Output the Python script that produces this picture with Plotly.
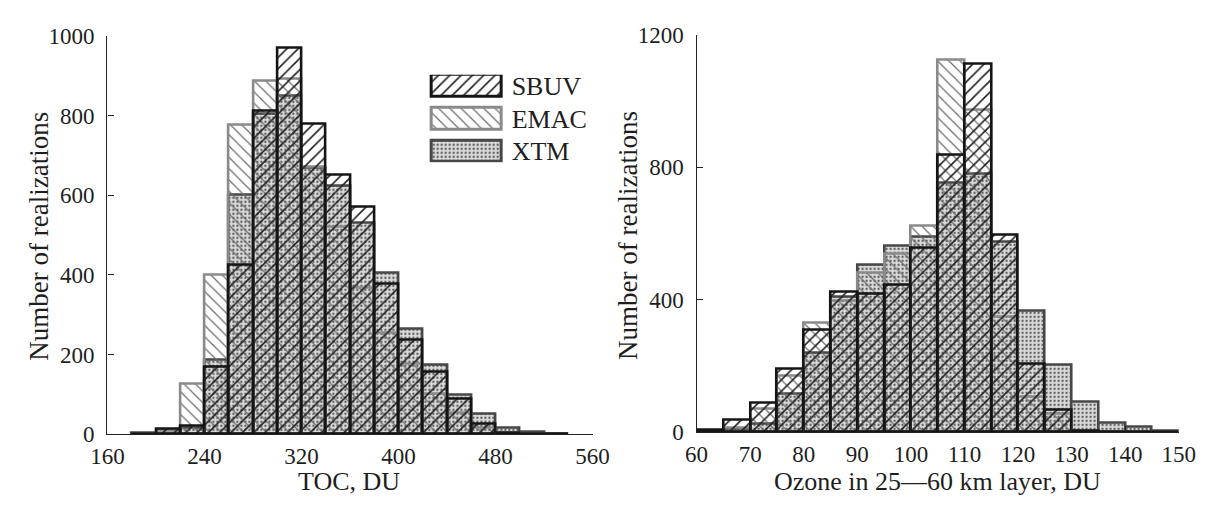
import plotly.graph_objects as go

# ---------------- data ----------------
series_names = ["SBUV", "EMAC", "XTM"]

toc_bin_centers = [190, 210, 230, 250, 270, 290, 310, 330, 350, 370, 390, 410, 430, 450, 470, 490, 510, 530]
toc_bin_width = 20
toc_sbuv = [2, 14, 20, 169, 424, 812, 970, 780, 652, 571, 378, 237, 157, 90, 27, 4, 1, 0]
toc_emac = [1, 8, 127, 400, 777, 886, 893, 672, 521, 368, 255, 177, 102, 54, 15, 3, 1, 0]
toc_xtm = [4, 10, 17, 188, 600, 804, 849, 668, 624, 531, 404, 265, 175, 100, 52, 16, 5, 2]

oz_bin_centers = [62.5, 67.5, 72.5, 77.5, 82.5, 87.5, 92.5, 97.5, 102.5, 107.5, 112.5, 117.5,
                  122.5, 127.5, 132.5, 137.5, 142.5, 147.5]
oz_bin_width = 5
oz_sbuv = [6, 37, 88, 191, 310, 423, 418, 445, 557, 837, 1112, 597, 208, 69, 5, 1, 0, 0]
oz_emac = [2, 12, 72, 169, 330, 397, 482, 540, 624, 1126, 975, 349, 107, 55, 3, 1, 0, 0]
oz_xtm = [3, 10, 26, 115, 241, 410, 507, 562, 589, 753, 780, 574, 367, 205, 91, 29, 16, 3]

toc_ticks = [160, 240, 320, 400, 480, 560]
oz_ticks = [60, 70, 80, 90, 100, 110, 120, 130, 140, 150]
toc_yticks = [0, 200, 400, 600, 800, 1000]
oz_yticks = [0, 400, 800, 1200]

# ---------------- styles ----------------
FONT = "Liberation Serif"
TXT = "#1e1e1e"
styles = {
    "SBUV": dict(line="#151515",
                 pattern=dict(shape="/", fgcolor="#222222", bgcolor="rgba(0,0,0,0)",
                              size=8, solidity=0.2, fillmode="replace")),
    "EMAC": dict(line="#8a8a8a",
                 pattern=dict(shape="\\", fgcolor="#6e6e6e", bgcolor="rgba(0,0,0,0)",
                              size=8, solidity=0.16, fillmode="replace")),
    "XTM": dict(line="#474747",
                pattern=dict(shape=".", fgcolor="#5f5f5f", bgcolor="#dcdcdc",
                             size=4, solidity=0.28, fillmode="replace")),
}
LW = 2.6

fig = go.Figure()

def add_hist(xs, width, values_by_name, xa, ya):
    for name in ["XTM", "EMAC", "SBUV"]:
        st = styles[name]
        fig.add_trace(go.Bar(
            x=xs, y=values_by_name[name], width=width, name=name,
            xaxis=xa, yaxis=ya, showlegend=False,
            marker=dict(color="rgba(0,0,0,0)", pattern=st["pattern"],
                        line=dict(color=st["line"], width=LW)),
            hoverinfo="x+y+name",
        ))

add_hist(toc_bin_centers, toc_bin_width,
         {"SBUV": toc_sbuv, "EMAC": toc_emac, "XTM": toc_xtm}, "x", "y")
add_hist(oz_bin_centers, oz_bin_width,
         {"SBUV": oz_sbuv, "EMAC": oz_emac, "XTM": oz_xtm}, "x2", "y2")

# legend swatches drawn as bars on a small helper axis
for name in series_names:
    st = styles[name]
    fig.add_trace(go.Bar(
        x=[1], y=[name], orientation="h", width=0.66, base=0,
        xaxis="x3", yaxis="y3", showlegend=False, hoverinfo="skip",
        marker=dict(color="rgba(0,0,0,0)", pattern=st["pattern"],
                    line=dict(color=st["line"], width=3)),
    ))

W, H = 1223, 509

def px_x(p):
    return p / W

def px_y(p):
    return (H - p) / H

axis_common = dict(showline=True, linecolor="#222222", linewidth=1.4,
                   ticks="inside", ticklen=6, tickwidth=1.2, tickcolor="#222222",
                   showgrid=False, zeroline=False,
                   tickfont=dict(family=FONT, size=23, color=TXT))

fig.update_layout(
    width=W, height=H,
    margin=dict(l=0, r=0, t=0, b=0),
    paper_bgcolor="white", plot_bgcolor="white",
    barmode="overlay", bargap=0,
    showlegend=False,
    xaxis=dict(domain=[px_x(93), px_x(592)], range=[160, 560], tickvals=toc_ticks,
               anchor="y", ticklabelstandoff=1, **axis_common),
    yaxis=dict(domain=[px_y(444), px_y(25)], range=[0, 1000], tickvals=toc_yticks,
               anchor="x", ticklabelstandoff=7, **axis_common),
    xaxis2=dict(domain=[px_x(699), px_x(1195)], range=[60, 150], tickvals=oz_ticks,
                anchor="y2", ticklabelstandoff=1, **axis_common),
    yaxis2=dict(domain=[px_y(442), px_y(24)], range=[0, 1200], tickvals=oz_yticks,
                anchor="x2", ticklabelstandoff=7, **axis_common),
    xaxis3=dict(domain=[px_x(422.4), px_x(501.6)], range=[-0.05, 1.05], anchor="y3",
                visible=False, fixedrange=True),
    yaxis3=dict(domain=[px_y(158), px_y(66)], type="category",
                categoryorder="array", categoryarray=series_names,
                range=[2.33, -0.33], anchor="x3", side="right",
                showline=False, ticks="", showgrid=False, zeroline=False,
                ticklabelstandoff=6, fixedrange=True,
                tickfont=dict(family=FONT, size=26, color=TXT)),
    annotations=[
        dict(text="Number of realizations", x=px_x(23), y=px_y(236), xref="paper", yref="paper",
             textangle=-90, showarrow=False, xanchor="center", yanchor="middle",
             font=dict(family=FONT, size=27, color=TXT)),
        dict(text="Number of realizations", x=px_x(629), y=px_y(235), xref="paper", yref="paper",
             textangle=-90, showarrow=False, xanchor="center", yanchor="middle",
             font=dict(family=FONT, size=27, color=TXT)),
        dict(text="TOC, DU", x=px_x(342), y=-0.004, xref="paper", yref="paper",
             showarrow=False, xanchor="center", yanchor="bottom",
             font=dict(family=FONT, size=26, color=TXT)),
        dict(text="Ozone in 25—60 km layer, DU", x=px_x(947), y=-0.004, xref="paper", yref="paper",
             showarrow=False, xanchor="center", yanchor="bottom",
             font=dict(family=FONT, size=26, color=TXT)),
    ],
)

fig.write_html("out.html")
